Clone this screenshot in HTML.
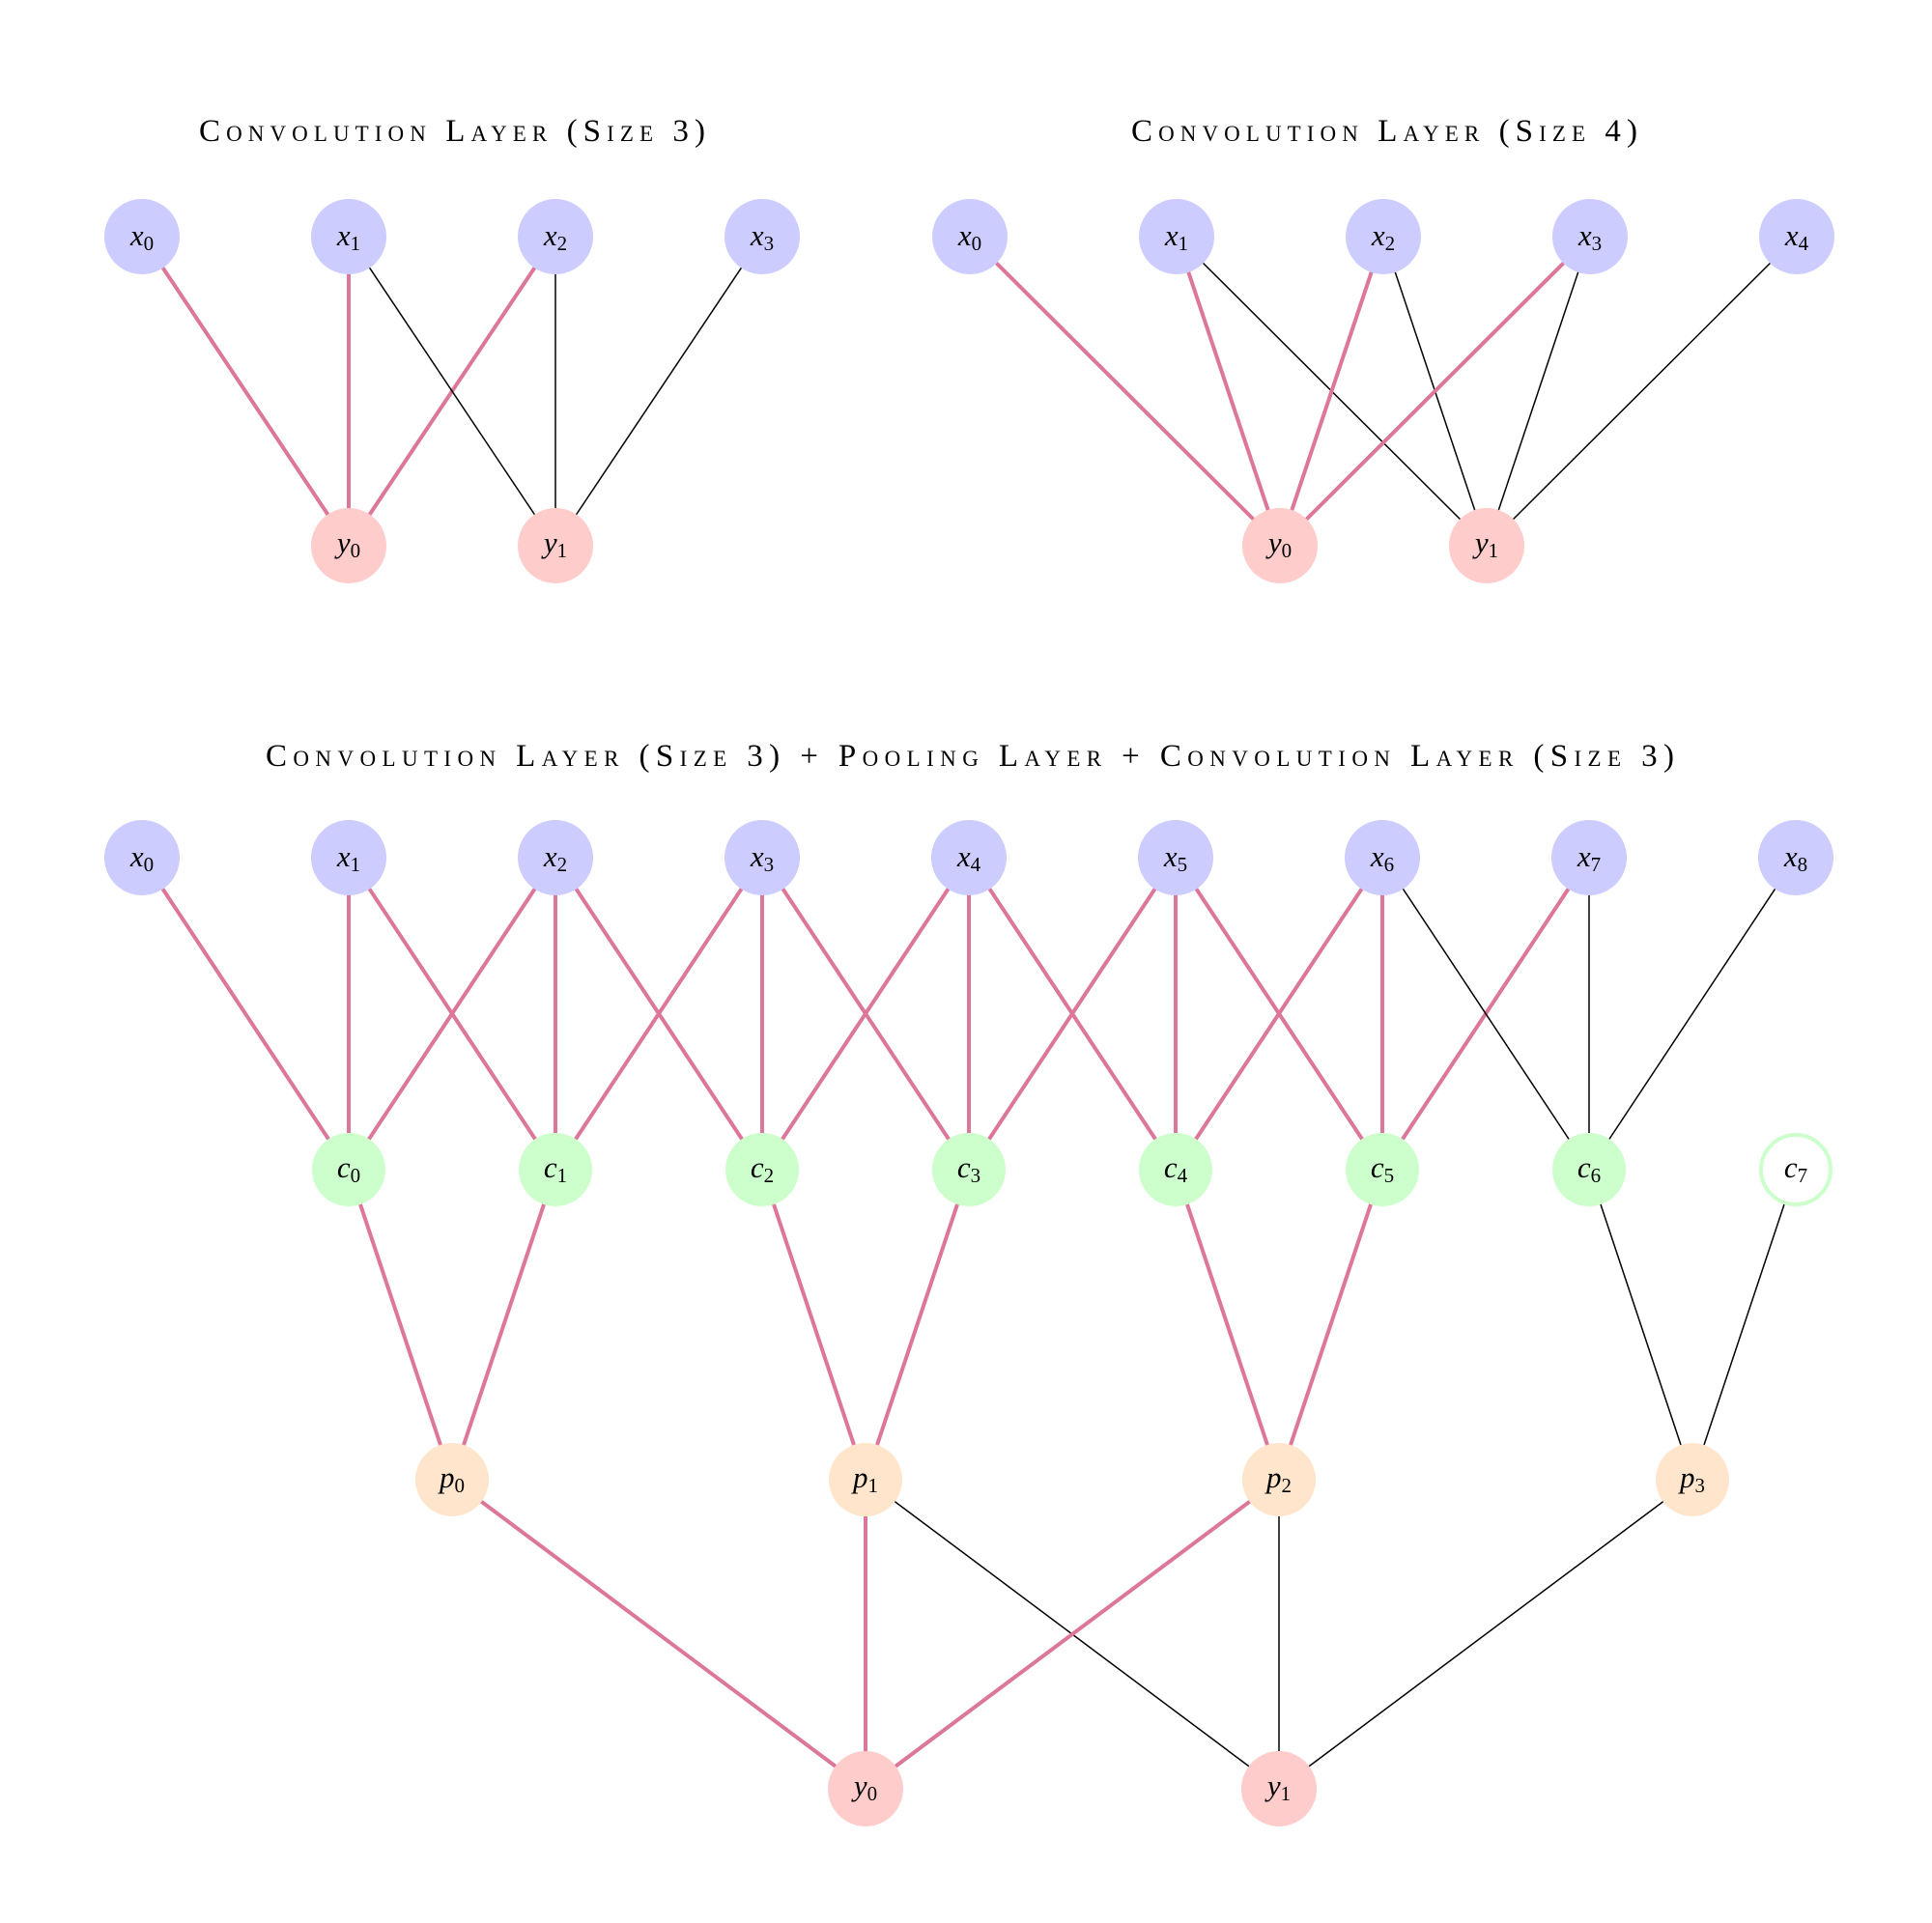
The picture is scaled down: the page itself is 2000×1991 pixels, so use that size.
<!DOCTYPE html>
<html><head><meta charset="utf-8"><style>
html,body{margin:0;padding:0;background:#fff;}
svg{display:block;}
.t{font-family:"Liberation Serif",serif;font-variant:small-caps;font-size:33px;fill:#000;}
.l{font-family:"Liberation Serif",serif;font-style:italic;font-size:31px;fill:#000;}
.s{font-style:normal;font-size:21px;}
.r{stroke:#dd7799;stroke-width:4;}
.k{stroke:#000;stroke-width:1.5;}
.bx{fill:#ccccff;} .py{fill:#ffcccc;} .gc{fill:#ccffcc;} .op{fill:#ffe5cc;}
</style></head><body>
<svg width="2000" height="1991" viewBox="0 0 2000 1991" xmlns="http://www.w3.org/2000/svg">
<text class="t" x="468" y="146" text-anchor="middle" textLength="524">Convolution Layer (Size 3)</text>
<text class="t" x="1433" y="146" text-anchor="middle" textLength="524">Convolution Layer (Size 4)</text>
<text class="t" x="1004" y="793" text-anchor="middle" textLength="1458">Convolution Layer (Size 3) + Pooling Layer + Convolution Layer (Size 3)</text>

<!-- graph 1 edges -->
<line class="r" x1="147" y1="245" x2="361" y2="565"/>
<line class="r" x1="361" y1="245" x2="361" y2="565"/>
<line class="r" x1="575" y1="245" x2="361" y2="565"/>
<line class="k" x1="361" y1="245" x2="575" y2="565"/>
<line class="k" x1="575" y1="245" x2="575" y2="565"/>
<line class="k" x1="789" y1="245" x2="575" y2="565"/>
<!-- graph 2 edges -->
<line class="k" x1="1218" y1="245" x2="1539" y2="565"/>
<line class="k" x1="1432" y1="245" x2="1539" y2="565"/>
<line class="k" x1="1646" y1="245" x2="1539" y2="565"/>
<line class="k" x1="1860" y1="245" x2="1539" y2="565"/>
<line class="r" x1="1004" y1="245" x2="1325" y2="565"/>
<line class="r" x1="1218" y1="245" x2="1325" y2="565"/>
<line class="r" x1="1432" y1="245" x2="1325" y2="565"/>
<line class="r" x1="1646" y1="245" x2="1325" y2="565"/>
<!-- bottom x->c -->
<line class="r" x1="147" y1="888" x2="361" y2="1211"/><line class="r" x1="361" y1="888" x2="361" y2="1211"/><line class="r" x1="575" y1="888" x2="361" y2="1211"/>
<line class="r" x1="361" y1="888" x2="575" y2="1211"/><line class="r" x1="575" y1="888" x2="575" y2="1211"/><line class="r" x1="789" y1="888" x2="575" y2="1211"/>
<line class="r" x1="575" y1="888" x2="789" y2="1211"/><line class="r" x1="789" y1="888" x2="789" y2="1211"/><line class="r" x1="1003" y1="888" x2="789" y2="1211"/>
<line class="r" x1="789" y1="888" x2="1003" y2="1211"/><line class="r" x1="1003" y1="888" x2="1003" y2="1211"/><line class="r" x1="1217" y1="888" x2="1003" y2="1211"/>
<line class="r" x1="1003" y1="888" x2="1217" y2="1211"/><line class="r" x1="1217" y1="888" x2="1217" y2="1211"/><line class="r" x1="1431" y1="888" x2="1217" y2="1211"/>
<line class="r" x1="1217" y1="888" x2="1431" y2="1211"/><line class="r" x1="1431" y1="888" x2="1431" y2="1211"/><line class="r" x1="1645" y1="888" x2="1431" y2="1211"/>
<line class="k" x1="1431" y1="888" x2="1645" y2="1211"/><line class="k" x1="1645" y1="888" x2="1645" y2="1211"/><line class="k" x1="1859" y1="888" x2="1645" y2="1211"/>
<!-- c->p -->
<line class="r" x1="361" y1="1211" x2="468" y2="1532"/><line class="r" x1="575" y1="1211" x2="468" y2="1532"/>
<line class="r" x1="789" y1="1211" x2="896" y2="1532"/><line class="r" x1="1003" y1="1211" x2="896" y2="1532"/>
<line class="r" x1="1217" y1="1211" x2="1324" y2="1532"/><line class="r" x1="1431" y1="1211" x2="1324" y2="1532"/>
<line class="k" x1="1645" y1="1211" x2="1752" y2="1532"/><line class="k" x1="1859" y1="1211" x2="1752" y2="1532"/>
<!-- p->y -->
<line class="k" x1="896" y1="1532" x2="1324" y2="1852"/><line class="k" x1="1324" y1="1532" x2="1324" y2="1852"/><line class="k" x1="1752" y1="1532" x2="1324" y2="1852"/>
<line class="r" x1="468" y1="1532" x2="896" y2="1852"/><line class="r" x1="896" y1="1532" x2="896" y2="1852"/><line class="r" x1="1324" y1="1532" x2="896" y2="1852"/>

<!-- graph1 nodes -->
<circle class="bx" cx="147" cy="245" r="39"/><text class="l" x="147" y="254" text-anchor="middle">x<tspan class="s" dy="5">0</tspan></text>
<circle class="bx" cx="361" cy="245" r="39"/><text class="l" x="361" y="254" text-anchor="middle">x<tspan class="s" dy="5">1</tspan></text>
<circle class="bx" cx="575" cy="245" r="39"/><text class="l" x="575" y="254" text-anchor="middle">x<tspan class="s" dy="5">2</tspan></text>
<circle class="bx" cx="789" cy="245" r="39"/><text class="l" x="789" y="254" text-anchor="middle">x<tspan class="s" dy="5">3</tspan></text>
<circle class="py" cx="361" cy="565" r="39"/><text class="l" x="361" y="572" text-anchor="middle">y<tspan class="s" dy="5">0</tspan></text>
<circle class="py" cx="575" cy="565" r="39"/><text class="l" x="575" y="572" text-anchor="middle">y<tspan class="s" dy="5">1</tspan></text>
<!-- graph2 nodes -->
<circle class="bx" cx="1004" cy="245" r="39"/><text class="l" x="1004" y="254" text-anchor="middle">x<tspan class="s" dy="5">0</tspan></text>
<circle class="bx" cx="1218" cy="245" r="39"/><text class="l" x="1218" y="254" text-anchor="middle">x<tspan class="s" dy="5">1</tspan></text>
<circle class="bx" cx="1432" cy="245" r="39"/><text class="l" x="1432" y="254" text-anchor="middle">x<tspan class="s" dy="5">2</tspan></text>
<circle class="bx" cx="1646" cy="245" r="39"/><text class="l" x="1646" y="254" text-anchor="middle">x<tspan class="s" dy="5">3</tspan></text>
<circle class="bx" cx="1860" cy="245" r="39"/><text class="l" x="1860" y="254" text-anchor="middle">x<tspan class="s" dy="5">4</tspan></text>
<circle class="py" cx="1325" cy="565" r="39"/><text class="l" x="1325" y="572" text-anchor="middle">y<tspan class="s" dy="5">0</tspan></text>
<circle class="py" cx="1539" cy="565" r="39"/><text class="l" x="1539" y="572" text-anchor="middle">y<tspan class="s" dy="5">1</tspan></text>
<!-- bottom x -->
<circle class="bx" cx="147" cy="888" r="39"/><text class="l" x="147" y="897" text-anchor="middle">x<tspan class="s" dy="5">0</tspan></text>
<circle class="bx" cx="361" cy="888" r="39"/><text class="l" x="361" y="897" text-anchor="middle">x<tspan class="s" dy="5">1</tspan></text>
<circle class="bx" cx="575" cy="888" r="39"/><text class="l" x="575" y="897" text-anchor="middle">x<tspan class="s" dy="5">2</tspan></text>
<circle class="bx" cx="789" cy="888" r="39"/><text class="l" x="789" y="897" text-anchor="middle">x<tspan class="s" dy="5">3</tspan></text>
<circle class="bx" cx="1003" cy="888" r="39"/><text class="l" x="1003" y="897" text-anchor="middle">x<tspan class="s" dy="5">4</tspan></text>
<circle class="bx" cx="1217" cy="888" r="39"/><text class="l" x="1217" y="897" text-anchor="middle">x<tspan class="s" dy="5">5</tspan></text>
<circle class="bx" cx="1431" cy="888" r="39"/><text class="l" x="1431" y="897" text-anchor="middle">x<tspan class="s" dy="5">6</tspan></text>
<circle class="bx" cx="1645" cy="888" r="39"/><text class="l" x="1645" y="897" text-anchor="middle">x<tspan class="s" dy="5">7</tspan></text>
<circle class="bx" cx="1859" cy="888" r="39"/><text class="l" x="1859" y="897" text-anchor="middle">x<tspan class="s" dy="5">8</tspan></text>
<!-- c -->
<circle class="gc" cx="361" cy="1211" r="38"/><text class="l" x="361" y="1219" text-anchor="middle">c<tspan class="s" dy="5">0</tspan></text>
<circle class="gc" cx="575" cy="1211" r="38"/><text class="l" x="575" y="1219" text-anchor="middle">c<tspan class="s" dy="5">1</tspan></text>
<circle class="gc" cx="789" cy="1211" r="38"/><text class="l" x="789" y="1219" text-anchor="middle">c<tspan class="s" dy="5">2</tspan></text>
<circle class="gc" cx="1003" cy="1211" r="38"/><text class="l" x="1003" y="1219" text-anchor="middle">c<tspan class="s" dy="5">3</tspan></text>
<circle class="gc" cx="1217" cy="1211" r="38"/><text class="l" x="1217" y="1219" text-anchor="middle">c<tspan class="s" dy="5">4</tspan></text>
<circle class="gc" cx="1431" cy="1211" r="38"/><text class="l" x="1431" y="1219" text-anchor="middle">c<tspan class="s" dy="5">5</tspan></text>
<circle class="gc" cx="1645" cy="1211" r="38"/><text class="l" x="1645" y="1219" text-anchor="middle">c<tspan class="s" dy="5">6</tspan></text>
<circle cx="1859" cy="1211" r="36" fill="#fff" stroke="#ccffcc" stroke-width="4"/><text class="l" x="1859" y="1219" text-anchor="middle">c<tspan class="s" dy="5">7</tspan></text>
<!-- p -->
<circle class="op" cx="468" cy="1532" r="38"/><text class="l" x="468" y="1540" text-anchor="middle">p<tspan class="s" dy="5">0</tspan></text>
<circle class="op" cx="896" cy="1532" r="38"/><text class="l" x="896" y="1540" text-anchor="middle">p<tspan class="s" dy="5">1</tspan></text>
<circle class="op" cx="1324" cy="1532" r="38"/><text class="l" x="1324" y="1540" text-anchor="middle">p<tspan class="s" dy="5">2</tspan></text>
<circle class="op" cx="1752" cy="1532" r="38"/><text class="l" x="1752" y="1540" text-anchor="middle">p<tspan class="s" dy="5">3</tspan></text>
<!-- y -->
<circle class="py" cx="896" cy="1852" r="39"/><text class="l" x="896" y="1859" text-anchor="middle">y<tspan class="s" dy="5">0</tspan></text>
<circle class="py" cx="1324" cy="1852" r="39"/><text class="l" x="1324" y="1859" text-anchor="middle">y<tspan class="s" dy="5">1</tspan></text>
</svg>
</body></html>
